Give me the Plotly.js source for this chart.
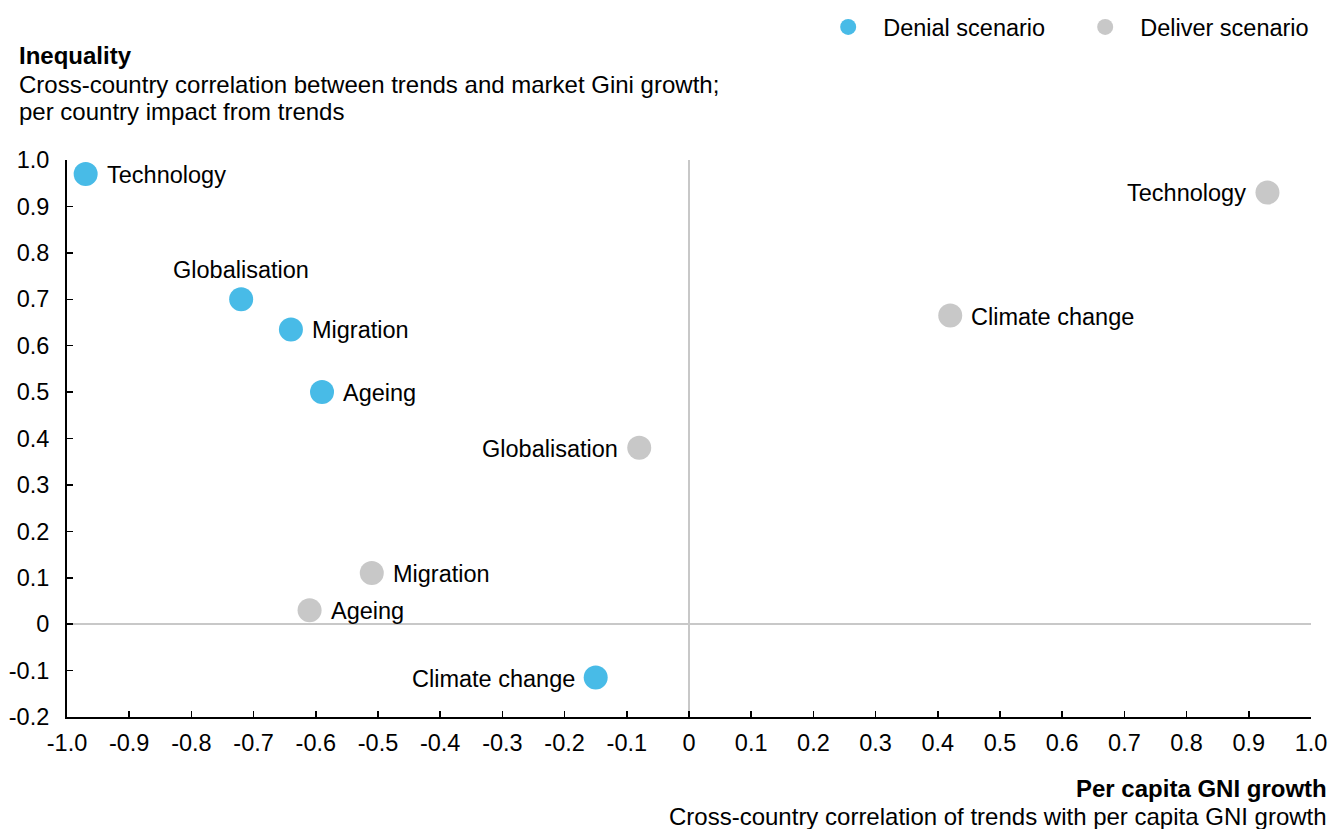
<!DOCTYPE html>
<html>
<head>
<meta charset="utf-8">
<script src="https://cdn.plot.ly/plotly-3.0.1.min.js"></script>
<style>html,body{margin:0;padding:0;background:#fff;}#chart{width:1330px;height:829px;}</style>
</head>
<body>
<div id="chart"></div>
<script>
// Data
const trends = ["Technology", "Globalisation", "Migration", "Ageing", "Climate change"];
const denialGNI = [-0.97, -0.72, -0.64, -0.59, -0.15];
const denialGini = [0.97, 0.70, 0.635, 0.50, -0.115];
const deliverGNI = [0.93, -0.08, -0.51, -0.61, 0.42];
const deliverGini = [0.93, 0.38, 0.11, 0.03, 0.665];
// label placement relative to each point: "right", "left", "above"
const denialLabelSide = ["right", "above", "right", "right", "left"];
const deliverLabelSide = ["left", "left", "right", "right", "right"];
const xTickVals = [-1.0, -0.9, -0.8, -0.7, -0.6, -0.5, -0.4, -0.3, -0.2, -0.1, 0, 0.1, 0.2, 0.3, 0.4, 0.5, 0.6, 0.7, 0.8, 0.9, 1.0];
const xTickText = ["-1.0", "-0.9", "-0.8", "-0.7", "-0.6", "-0.5", "-0.4", "-0.3", "-0.2", "-0.1", "0", "0.1", "0.2", "0.3", "0.4", "0.5", "0.6", "0.7", "0.8", "0.9", "1.0"];
const yTickVals = [-0.2, -0.1, 0, 0.1, 0.2, 0.3, 0.4, 0.5, 0.6, 0.7, 0.8, 0.9, 1.0];
const yTickText = ["-0.2", "-0.1", "0", "0.1", "0.2", "0.3", "0.4", "0.5", "0.6", "0.7", "0.8", "0.9", "1.0"];

const FONT = "Liberation Sans, Arial, sans-serif";
const FS = 23.5;
const TFS = 24;
const BLUE = "#48BBE7";
const GREY = "#C8C8C8";

const traces = [
  {
    type: "scatter", mode: "markers", name: "Denial scenario",
    x: denialGNI, y: denialGini,
    marker: {color: BLUE, size: 24, line: {width: 0}},
    cliponaxis: false, hoverinfo: "skip"
  },
  {
    type: "scatter", mode: "markers", name: "Deliver scenario",
    x: deliverGNI, y: deliverGini,
    marker: {color: GREY, size: 24, line: {width: 0}},
    cliponaxis: false, hoverinfo: "skip"
  }
];

function labelAnn(x, y, text, side) {
  const a = {xref: "x", yref: "y", x: x, y: y, text: text, showarrow: false,
    font: {family: FONT, size: FS, color: "#000"}, yanchor: "middle", yshift: -1};
  if (side === "right") { a.xanchor = "left"; a.xshift = 19; }
  else if (side === "left") { a.xanchor = "right"; a.xshift = -19; }
  else { a.xanchor = "center"; a.yshift = 29; }
  return a;
}

const annotations = [];
trends.forEach((t, i) => annotations.push(labelAnn(denialGNI[i], denialGini[i], t, denialLabelSide[i])));
trends.forEach((t, i) => annotations.push(labelAnn(deliverGNI[i], deliverGini[i], t, deliverLabelSide[i])));

const titleLines = [
  ["<b>Inequality</b>", 1.1885],
  ["Cross-country correlation between trends and market Gini growth;", 1.1364],
  ["per country impact from trends", 1.0862]
];
titleLines.forEach(l => annotations.push({xref: "paper", yref: "paper", x: -0.0402, y: l[1],
  xanchor: "left", yanchor: "middle", showarrow: false, text: l[0],
  font: {family: FONT, size: TFS, color: "#000"}}));
const xTitleLines = [
  ["<b>Per capita GNI growth</b>", -0.1275],
  ["Cross-country correlation of trends with per capita GNI growth", -0.1795]
];
xTitleLines.forEach(l => annotations.push({xref: "paper", yref: "paper", x: 1.0145, y: l[1],
  xanchor: "right", yanchor: "middle", showarrow: false, text: l[0],
  font: {family: FONT, size: TFS, color: "#000"}}));

const layout = {
  width: 1330, height: 829,
  margin: {l: 67, r: 19, t: 160, b: 112, pad: 0, autoexpand: false},
  paper_bgcolor: "#fff", plot_bgcolor: "#fff",
  font: {family: FONT, size: FS, color: "#000"},
  showlegend: true,
  legend: {
    orientation: "h", x: 1.013, xanchor: "right", y: 1.278, yanchor: "top",
    font: {family: FONT, size: FS, color: "#000"},
    itemwidth: 60, entrywidth: 182, bgcolor: "rgba(0,0,0,0)"
  },
  xaxis: {
    range: [-1.0, 1.0], tickvals: xTickVals, ticktext: xTickText,
    showline: true, linecolor: "#000", linewidth: 2,
    ticks: "inside", ticklen: 6, tickwidth: 1.5, tickcolor: "#000",
    showgrid: false, zeroline: true, zerolinecolor: GREY, zerolinewidth: 2,
    tickfont: {family: FONT, size: FS, color: "#000"},
    ticklabelstandoff: 4, fixedrange: true
  },
  yaxis: {
    range: [-0.2, 1.0], tickvals: yTickVals, ticktext: yTickText,
    showline: true, linecolor: "#000", linewidth: 2,
    ticks: "inside", ticklen: 6, tickwidth: 1.5, tickcolor: "#000",
    showgrid: false, zeroline: true, zerolinecolor: GREY, zerolinewidth: 2,
    tickfont: {family: FONT, size: FS, color: "#000"},
    ticklabelstandoff: 11, fixedrange: true
  },
  annotations: annotations
};

Plotly.newPlot("chart", traces, layout, {displayModeBar: false, staticPlot: true});
</script>
</body>
</html>
